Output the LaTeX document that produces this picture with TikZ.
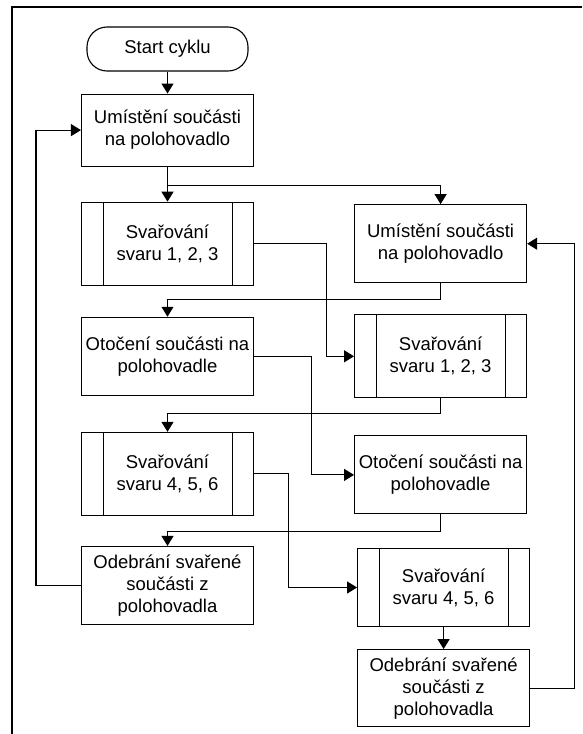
\documentclass[tikz,border=0pt]{standalone}
\usepackage{fontspec}
\setmainfont{Liberation Sans}
\usetikzlibrary{arrows.meta, positioning}
\tikzset{box/.style={rectangle,draw,align=center,inner sep=2pt,minimum width=172pt,minimum height=78pt,line width=1.1pt,font=\fontsize{18.5}{22}\selectfont},
  subbox/.style={box,minimum height=83pt,path picture={\draw[line width=1.1pt] ([xshift=22pt]path picture bounding box.north west) -- ([xshift=22pt]path picture bounding box.south west) ([xshift=-21pt]path picture bounding box.north east) -- ([xshift=-21pt]path picture bounding box.south east);}},
  term/.style={box,rounded corners=20pt,minimum width=161pt,minimum height=44pt},
  line/.style={-{Triangle[length=10pt,width=12pt]},line width=1.1pt},
  frame/.style={line width=2.5pt}}

\begin{document}
\begin{tikzpicture}[node distance=32pt and 100pt]
\useasboundingbox (0,0) rectangle (582pt,-734pt);
\draw[frame] (12pt,-734pt) |- (582pt,-7pt);
% left column
\node[term] (s) at (167.5pt,-49pt) {Start cyklu};
\node[box, minimum height=72pt, below=22pt of s] (a1) {Umístění součásti\\na polohovadlo};
\node[subbox, below=35pt of a1] (a2) {Svařování\\svaru 1, 2, 3};
\node[box, below=31pt of a2] (a3) {Otočení součásti na\\polohovadle};
\node[subbox, below=36pt of a3] (a4) {Svařování\\svaru 4, 5, 6};
\node[box, below=30pt of a4] (a5) {Odebrání svařené\\součásti z\\polohovadla};
% right column
\node[box, right=of a2] (b1) {Umístění součásti\\na polohovadlo};
\node[subbox, below=31pt of b1] (b2) {Svařování\\svaru 1, 2, 3};
\node[box, below=37pt of b2] (b3) {Otočení součásti na\\polohovadle};
\node[subbox, minimum height=78pt, below=33.5pt of b3, xshift=3pt] (b4) {Svařování\\svaru 4, 5, 6};
\node[box, minimum height=77pt, below=22pt of b4] (b5) {Odebrání svařené\\součásti z\\polohovadla};
\draw[line] (s) -- (a1);
\draw[line] (a1) -- (a2);
\draw[line] (a1.south) -- ++(0,-19pt) -| (b1.north);
\draw[line] (a2.east) -- ++(72pt,0) |- (b2.west);
\draw[line] (b1.south) -- ++(0,-16pt) -| (a3.north);
\draw[line] (a3.east) -- ++(57pt,0) |- (b3.west);
\draw[line] (b2.south) -- ++(0,-15pt) -| (a4.north);
\draw[line] (a4.east) -- ++(34pt,0) |- (b4.west);
\draw[line] (b3.south) -- ++(0,-17pt) -| (a5.north);
\draw[line] (a5.west) -- ++(-45pt,0) |- (a1.west);
\draw[line] (b4) -- (b5);
\draw[line] (b5.east) -- ++(44pt,0) |- (b1.east);
\end{tikzpicture}
\end{document}
